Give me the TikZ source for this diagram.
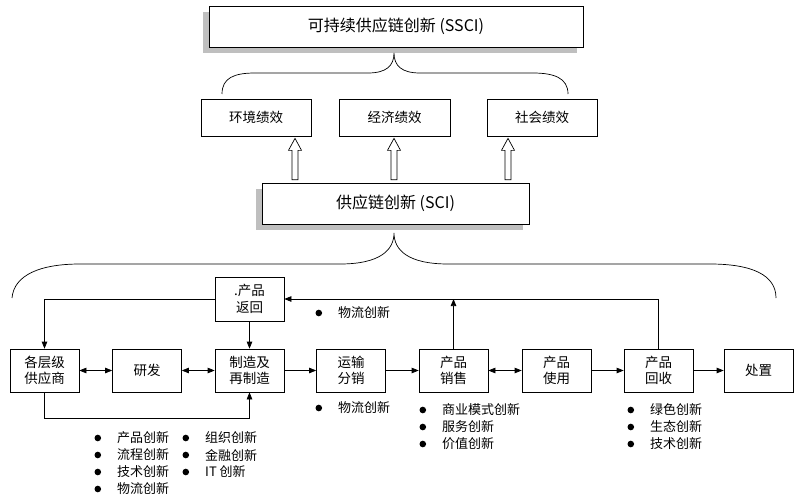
\documentclass[tikz,border=0pt]{standalone}
\usepackage{fontspec}
\setmainfont{Noto Sans CJK SC}
\usetikzlibrary{arrows.meta,calc,shadows}

% hollow up arrow: x position, lower node, upper node
\newcommand{\hollowup}[3]{%
  \draw[fill=white,line width=0.7pt]
    ($(#1,0 |- #2.north)+(-3,-3)$) -- ($(#1,0 |- #3.south)+(-3,14)$)
    -- ($(#1,0 |- #3.south)+(-6.5,14)$) -- ($(#1,0 |- #3.south)+(0,2)$)
    -- ($(#1,0 |- #3.south)+(6.5,14)$) -- ($(#1,0 |- #3.south)+(3,14)$)
    -- ($(#1,0 |- #2.north)+(3,-3)$) -- cycle;}

\begin{document}
\begin{tikzpicture}[x=1pt,y=-1pt,
    box/.style={draw,line width=0.7pt,align=center,inner sep=0pt,
      minimum width=69pt,minimum height=43pt,font=\fontsize{13.5}{16.5}\selectfont},
    bigbox/.style={box,fill=white,font=\fontsize{16}{19}\selectfont,
      drop shadow={shadow xshift=-6pt,shadow yshift=-6pt,fill=black!25,opacity=1}},
    flow/.style={draw,line width=0.7pt},
    item/.style={anchor=west,inner sep=0pt,font=\fontsize{13}{15}\selectfont,
      label={[circle,fill,inner sep=0pt,minimum size=6.6pt,label distance=15.7pt]left:{}}},
    >={Triangle[length=7pt,width=5.5pt]}]
  \fill[white] (0,0) rectangle (799,500);
  \useasboundingbox (0,0) rectangle (799,500);

  % top part
  \node[bigbox,minimum width=374pt,minimum height=41pt] (ssci) at (396,26.5) {可持续供应链创新 (SSCI)};
  \node[box,minimum width=110pt,minimum height=37pt] (env) at (256,117.5) {环境绩效};
  \node[box,minimum width=111pt,minimum height=37pt] (eco) at (394.5,117.5) {经济绩效};
  \node[box,minimum width=110pt,minimum height=37pt] (soc) at (542,117.5) {社会绩效};
  \node[bigbox,minimum width=267pt,minimum height=41pt] (sci) at (395.5,203.5) {供应链创新 (SCI)};

  \draw[line width=0.7pt] (222,94) .. controls (222,78) and (234,73) .. (255,73) -- (368,73)
    .. controls (386,73) and (394,66) .. (394,53) .. controls (394,66) and (402,73) .. (420,73)
    -- (533,73) .. controls (554,73) and (568,78) .. (568,94);

  \hollowup{295}{sci}{env}
  \hollowup{394}{sci}{eco}
  \hollowup{508}{sci}{soc}

  \draw[line width=0.7pt] (12,298) .. controls (14,275) and (40,264) .. (80,264) -- (340,264)
    .. controls (380,264) and (394,250) .. (394,233) .. controls (394,250) and (408,264) .. (448,264)
    -- (710,264) .. controls (752,264) and (776,275) .. (776,298);

  % chain
  \node[box,minimum height=44pt] (ret) at (249.5,299) {.产品\\返回};
  \node[box] (sup) at (44.5,370.5) {各层级\\供应商};
  \node[box] (rd) at (147,370.5) {研发};
  \node[box] (mfg) at (249.5,370.5) {制造及\\再制造};
  \node[box] (dist) at (351,370.5) {运输\\分销};
  \node[box] (sale) at (453.5,370.5) {产品\\销售};
  \node[box] (use) at (556.5,370.5) {产品\\使用};
  \node[box] (rec) at (658.5,370.5) {产品\\回收};
  \node[box] (disp) at (758.5,370.5) {处置};

  \draw[flow,<->] (sup) -- (rd);
  \draw[flow,<->] (rd) -- (mfg);
  \draw[flow,->] (mfg) -- (dist);
  \draw[flow,->] (dist) -- (sale);
  \draw[flow,<->] (sale) -- (use);
  \draw[flow,->] (use) -- (rec);
  \draw[flow,->] (rec) -- (disp);
  \draw[flow,->] (ret) -- (mfg);
  \draw[flow,->] (ret.west) -| (sup.north);
  \draw[flow,->] (sup.south) -- ++(0,26) -| (mfg.south);
  \draw[flow,->] (rec.north) |- (ret.east);
  \draw[flow,->] (sale.north) -- (sale.north |- ret.east);

  % innovation lists
  \node[item] (i1) at (338,313) {物流创新};
  \node[item] (i2) at (338,408) {物流创新};
  \node[item] (i3) at (117,438) {产品创新};
  \node[item] (i4) at (117,455) {流程创新};
  \node[item] (i5) at (117,472) {技术创新};
  \node[item] (i6) at (117,489) {物流创新};
  \node[item] (i7) at (205,438) {组织创新};
  \node[item] (i8) at (205,455) {金融创新};
  \node[item] (i9) at (205,472) {IT 创新};
  \node[item] (i10) at (442,410) {商业模式创新};
  \node[item] (i11) at (442,427) {服务创新};
  \node[item] (i12) at (442,444) {价值创新};
  \node[item] (i13) at (650,410) {绿色创新};
  \node[item] (i14) at (650,427) {生态创新};
  \node[item] (i15) at (650,444) {技术创新};
\end{tikzpicture}
\end{document}
